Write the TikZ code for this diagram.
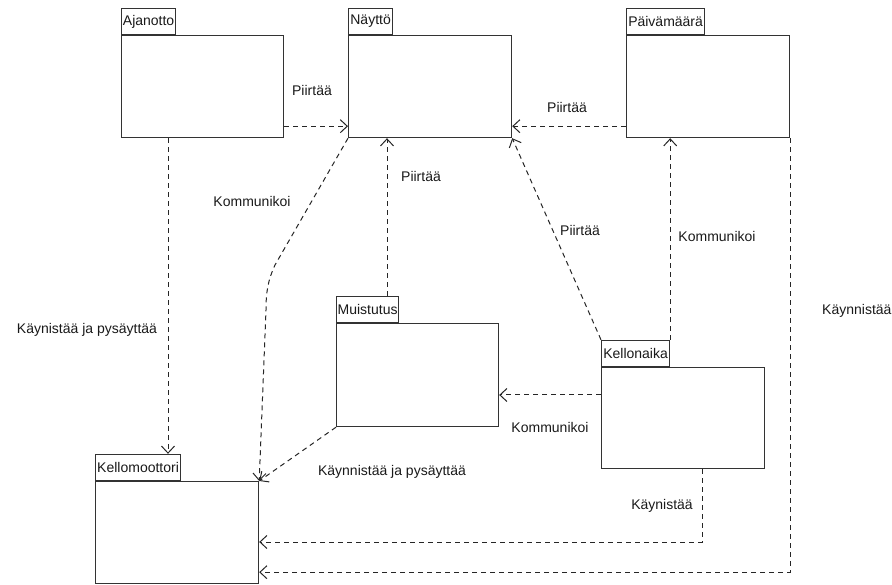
\documentclass[tikz,border=0pt]{standalone}
\usepackage{fontspec}
\setmainfont{Liberation Sans}
\usetikzlibrary{arrows.meta,calc}
\begin{document}
\begin{tikzpicture}[x=1pt,y=-1pt,
  font=\fontsize{14}{16}\selectfont,
  box/.style={draw=black!80,line width=1.2pt,fill=white,inner sep=0pt,anchor=north west},
  tab/.style={draw=black!80,line width=1.2pt,fill=white,inner sep=0pt,anchor=south west,minimum height=26pt,text=black!90},
  dep/.style={draw=black!85,line width=1pt,dash pattern=on 5pt off 4pt,-{Straight Barb[length=7pt,width=13pt,line width=1pt]}},
  lbl/.style={inner sep=1pt,text=black!90}]
\useasboundingbox (0,0) rectangle (892,585);
% packages
\node[box,minimum width=162pt,minimum height=102pt] (ajanotto) at (121,35) {};
\node[tab,minimum width=54pt] (ajanottoT) at (ajanotto.north west) {Ajanotto};
\node[box,minimum width=163pt,minimum height=102pt] (naytto) at (348,35) {};
\node[tab,minimum width=44pt] (nayttoT) at (naytto.north west) {Näyttö};
\node[box,minimum width=163pt,minimum height=102pt] (paiva) at (626,35) {};
\node[tab,minimum width=78pt] (paivaT) at (paiva.north west) {Päivämäärä};
\node[box,minimum width=162pt,minimum height=103pt] (muistutus) at (336,323) {};
\node[tab,minimum width=62pt] (muistutusT) at (muistutus.north west) {Muistutus};
\node[box,minimum width=163pt,minimum height=101pt] (kellonaika) at (601,367) {};
\node[tab,minimum width=68pt] (kellonaikaT) at (kellonaika.north west) {Kellonaika};
\node[box,minimum width=163pt,minimum height=102pt] (kello) at (95,481) {};
\node[tab,minimum width=85pt] (kelloT) at (kello.north west) {Kellomoottori};
% helper coordinates
\coordinate (aS) at ($(ajanotto.south east)+(0,-12)$);
\coordinate (pS) at ($(paiva.south west)+(0,-12)$);
\coordinate (mT) at ($(muistutusT.north west)+(51,0)$);
\coordinate (kM) at ($(kellonaika.north west)+(0,28)$);
\coordinate (aB) at ($(ajanotto.south west)+(47,0)$);
\coordinate (kB) at ($(kellonaika.south west)+(101,0)$);
\coordinate (k1) at ($(kello.north east)+(0,61)$);
\coordinate (k2) at ($(kello.south east)+(0,-12)$);
\coordinate (c1) at (275,265);
\coordinate (c2) at (266,310);
% connectors
\draw[dep] (aS) -- (naytto.west |- aS);
\draw[dep] (pS) -- (naytto.east |- pS);
\draw[dep] (mT) -- (naytto.south -| mT);
\draw[dep] (kellonaikaT.north west) -- (naytto.south east);
\draw[dep] (kellonaikaT.north east) -- (kellonaikaT.north east |- paiva.south);
\draw[dep] (kM) -- (muistutus.east |- kM);
\draw[dep] (naytto.south west) -- (c1) .. controls (268,280) and (266,292) .. (c2) -- (kello.north east);
\draw[dep] (aB) -- (kelloT.north -| aB);
\draw[dep] (muistutus.south west) -- (kello.north east);
\draw[dep] (kB) |- (k1);
\draw[dep] (paiva.south east) |- (k2);
% labels
\node[lbl] (l1) at (312,90) {Piirtää};
\node[lbl] (l2) at (567,107) {Piirtää};
\node[lbl] (l3) at (421,176) {Piirtää};
\node[lbl] (l4) at (580,230) {Piirtää};
\node[lbl] (l5) at (717,236) {Kommunikoi};
\node[lbl] (l6) at (252,201) {Kommunikoi};
\node[lbl] (l7) at (550,427) {Kommunikoi};
\node[lbl] (l8) at (392,472) {Käynnistää ja pysäyttää};
\node[lbl] (l9) at (87,330) {Käynistää ja pysäyttää};
\node[lbl] (l10) at (662,506) {Käynistää};
\node[lbl,anchor=west] (l11) at (821,311) {Käynnistää};
\end{tikzpicture}
\end{document}
